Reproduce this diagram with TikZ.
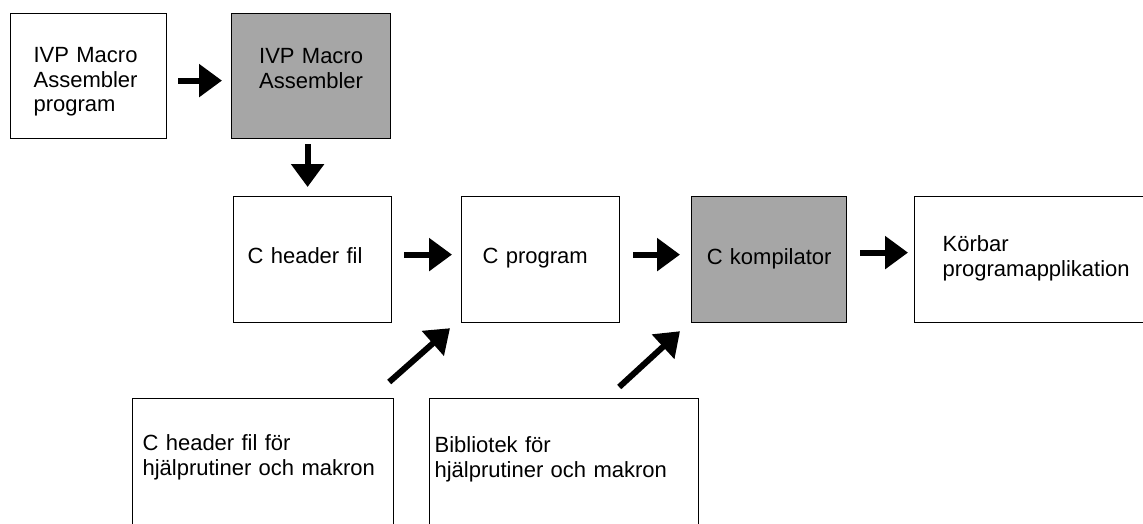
\documentclass[tikz,border=0pt]{standalone}
\usepackage{fontspec}
\setmainfont{Liberation Sans}
\usetikzlibrary{arrows.meta}

\begin{document}
\begin{tikzpicture}[x=1pt, y=-1pt,
  box/.style={draw, line width=1.2pt, anchor=north west, inner ysep=0pt, align=left,
    font=\fontsize{22pt}{24.5pt}\selectfont},
  shadedbox/.style={box, fill=gray!70},
  arr/.style={line width=6pt, -{Triangle[width=32pt,length=23pt]}}]
 \useasboundingbox (0,0) rectangle (1143,523);
 \clip (0,0) rectangle (1143,523);
 \node[box, text width=110pt, inner xsep=23pt, text height=49pt, text depth=76pt] (asmprog) at (10,13) {IVP Macro\\ Assembler\\ program};
 \node[shadedbox, align=center, text width=159pt, inner xsep=0pt, text height=50pt, text depth=75pt] (asm) at (231,13) {IVP Macro\\ Assembler};
 \node[box, text width=130pt, inner xsep=14pt, text height=67pt, text depth=59pt] (hdr) at (233,196) {C header fil};
 \node[box, text width=116pt, inner xsep=21pt, text height=67pt, text depth=59pt] (cprog) at (461,196) {C program};
 \node[shadedbox, align=center, text width=155pt, inner xsep=0pt, text height=68pt, text depth=58pt] (comp) at (691,196) {C kompilator};
 \node[box, text width=200pt, inner xsep=28pt, text height=55pt, text depth=71pt] (app) at (914,196) {Körbar\\ programapplikation};
 \node[box, text width=241pt, inner xsep=10pt, text height=52pt, text depth=150pt] (hlphdr) at (132,398) {C header fil för\\ hjälprutiner och makron};
 \node[box, text width=259pt, inner xsep=5pt, text height=54pt, text depth=150pt] (lib) at (429,398) {Bibliotek för\\ hjälprutiner och makron};
 \path[arr]
  ([yshift=-4.5pt]asmprog.east) edge[shorten <=11pt, shorten >=9pt] ([yshift=-4.5pt]asm.west)
  ([xshift=-3.5pt]asm.south) edge[shorten <=5pt, shorten >=9pt] ([xshift=-5pt]hdr.north)
  ([yshift=5pt]hdr.east) edge[shorten <=12pt, shorten >=9pt] ([yshift=5pt]cprog.west)
  ([yshift=5pt]cprog.east) edge[shorten <=13pt, shorten >=11pt] ([yshift=5pt]comp.west)
  ([yshift=7pt]comp.east) edge[shorten <=13pt, shorten >=6pt] ([yshift=7pt]app.west)
  ([shift={(-5pt,16pt)}]hlphdr.north east) edge ([shift={(-11pt,-5pt)}]cprog.south west)
  ([shift={(-80pt,11pt)}]lib.north east) edge ([shift={(-11pt,-8pt)}]comp.south west);
\end{tikzpicture}
\end{document}
